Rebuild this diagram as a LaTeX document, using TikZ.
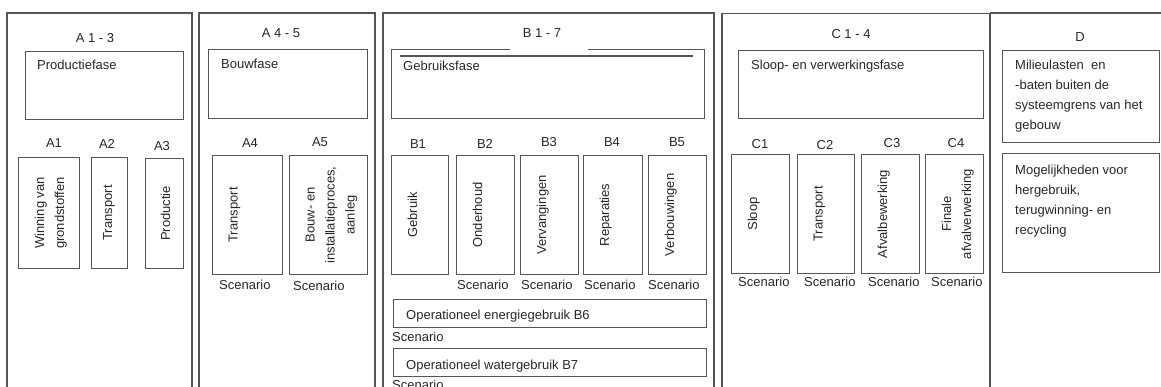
\documentclass[tikz,border=0pt]{standalone}
\usepackage{fontspec}
\setmainfont{Liberation Sans}
\usetikzlibrary{positioning,calc}

\definecolor{rulegray}{RGB}{85,85,85}
\definecolor{textgray}{RGB}{40,40,40}

\tikzset{
  colline/.style={draw=rulegray, line width=1.1pt},
  boxline/.style={draw=rulegray, line width=0.9pt},
  modbox/.style 2 args={boxline, anchor=north west, inner sep=0pt,
    minimum width=#1, minimum height=#2},
  txt/.style={text=textgray, font=\fontsize{13}{20}\selectfont, inner sep=0pt},
  vtxt/.style={txt, rotate=90, anchor=north, align=center},
}

\begin{document}
\begin{tikzpicture}[x=1pt, y=-1pt]
    \useasboundingbox[fill=white] (0,0) rectangle (1161,387);

    % columns
    \draw[colline] (7,395) |- (192,13) -- (192,395);
    \draw[colline] (199,395) |- (375,13) -- (375,395);
    \draw[colline] (383,395) |- (714,13) -- (714,395);
    \draw[colline] (722,395) |- (990,13.5) -- (990,395);
    \draw[colline] (990,13) -- (1165,13);

    % column titles
    \node[txt, anchor=base] (tA13) at (95,43) {A 1 - 3};
    \node[txt, anchor=base] (tA45) at (281,38) {A 4 - 5};
    \node[txt, anchor=base] (tB17) at (542,38) {B 1 - 7};
    \node[txt, anchor=base] (tC14) at (851,39) {C 1 - 4};
    \node[txt, anchor=base] (tD) at (1080,42) {D};

    % phase boxes
    \node[modbox={158pt}{68pt}] (prod) at (25,51) {};
    \node[txt, anchor=base west] (prodtxt) at (37,70) {Productiefase};
    \node[modbox={159pt}{69pt}] (bouw) at (208,49) {};
    \node[txt, anchor=base west] (bouwtxt) at (221,69) {Bouwfase};
    \draw[boxline] (510,49) -- (391,49) -- (391,118) -- (704,118) -- (704,49) -- (588,49);
    \draw[boxline, line width=1.4pt] (400,56) -- (693,56);
    \node[txt, anchor=base west] (gebrtxt) at (403,71) {Gebruiksfase};
    \node[modbox={245pt}{68pt}] (sloop) at (738,50) {};
    \node[txt, anchor=base west] (slooptxt) at (751,70) {Sloop- en verwerkingsfase};

    % module D
    \node[modbox={157pt}{92pt}] (d1) at (1002,50) {};
    \node[txt, anchor=north west, align=left] (d1txt) at (1015,60)
        {Milieulasten\ \ en\\-baten buiten de\\systeemgrens van het\\gebouw};
    \node[modbox={157pt}{119pt}] (d2) at (1002,153) {};
    \node[txt, anchor=north west, align=left] (d2txt) at (1015,165)
        {Mogelijkheden voor\\hergebruik,\\terugwinning- en\\recycling};

    % module labels
    \node[txt, anchor=base] (lA1) at (54,148) {A1};
    \node[txt, anchor=base] (lA2) at (107,149) {A2};
    \node[txt, anchor=base] (lA3) at (162,151) {A3};
    \node[txt, anchor=base] (lA4) at (250,148) {A4};
    \node[txt, anchor=base] (lA5) at (320,147) {A5};
    \node[txt, anchor=base] (lB1) at (418,149) {B1};
    \node[txt, anchor=base] (lB2) at (485,149) {B2};
    \node[txt, anchor=base] (lB3) at (549,147) {B3};
    \node[txt, anchor=base] (lB4) at (612,147) {B4};
    \node[txt, anchor=base] (lB5) at (677,147) {B5};
    \node[txt, anchor=base] (lC1) at (760,149) {C1};
    \node[txt, anchor=base] (lC2) at (825,150) {C2};
    \node[txt, anchor=base] (lC3) at (892,148) {C3};
    \node[txt, anchor=base] (lC4) at (956,148) {C4};

    % module boxes
    \node[modbox={61pt}{111pt}] (a1) at (18,157) {};
    \node[modbox={36pt}{111pt}] (a2) at (91,157) {};
    \node[modbox={38pt}{110pt}] (a3) at (145,158) {};
    \node[modbox={70pt}{119pt}] (a4) at (212,155) {};
    \node[modbox={78pt}{119pt}] (a5) at (289,155) {};
    \node[modbox={57pt}{119pt}] (b1) at (391,155) {};
    \node[modbox={58pt}{119pt}] (b2) at (456,155) {};
    \node[modbox={58pt}{119pt}] (b3) at (520,155) {};
    \node[modbox={59pt}{119pt}] (b4) at (583,155) {};
    \node[modbox={58pt}{119pt}] (b5) at (648,155) {};
    \node[modbox={58pt}{119pt}] (c1) at (731,154) {};
    \node[modbox={57pt}{119pt}] (c2) at (797,154) {};
    \node[modbox={58pt}{119pt}] (c3) at (861,154) {};
    \node[modbox={58pt}{119pt}] (c4) at (925,154) {};

    % vertical texts
    \node[vtxt] (a1txt) at ([xshift=16.5pt]a1.west) {Winning van\\grondstoffen};
    \node[vtxt] (a2txt) at ([xshift=12pt]a2.west) {Transport};
    \node[vtxt] (a3txt) at ([xshift=15.5pt]a3.west) {Productie};
    \node[vtxt] (a4txt) at ([xshift=16.5pt]a4.west) {Transport};
    \node[vtxt] (a5txt) at ([xshift=16.5pt]a5.west) {Bouw- en\\installatieproces,\\aanleg};
    \node[vtxt] (b1txt) at ([xshift=16.5pt]b1.west) {Gebruik};
    \node[vtxt] (b2txt) at ([xshift=16.5pt]b2.west) {Onderhoud};
    \node[vtxt] (b3txt) at ([xshift=16.5pt]b3.west) {Vervangingen};
    \node[vtxt] (b4txt) at ([xshift=16.5pt]b4.west) {Reparaties};
    \node[vtxt] (b5txt) at ([xshift=16.5pt]b5.west) {Verbouwingen};
    \node[vtxt] (c1txt) at ([xshift=16.5pt]c1.west) {Sloop};
    \node[vtxt] (c2txt) at ([xshift=16.5pt]c2.west) {Transport};
    \node[vtxt] (c3txt) at ([xshift=16.5pt]c3.west) {Afvalbewerking};
    \node[vtxt] (c4txt) at ([xshift=16.5pt]c4.west) {Finale\\afvalverwerking};

    % scenario labels
    \node[txt, anchor=base west] (sA4) at (219,289) {Scenario};
    \node[txt, anchor=base west] (sA5) at (293,290) {Scenario};
    \node[txt, anchor=base west] (sB2) at (457,289) {Scenario};
    \node[txt, anchor=base west] (sB3) at (521,289) {Scenario};
    \node[txt, anchor=base west] (sB4) at (584,289) {Scenario};
    \node[txt, anchor=base west] (sB5) at (648,289) {Scenario};
    \node[txt, anchor=base west] (sC1) at (738,287) {Scenario};
    \node[txt, anchor=base west] (sC2) at (804,287) {Scenario};
    \node[txt, anchor=base west] (sC3) at (868,287) {Scenario};
    \node[txt, anchor=base west] (sC4) at (931,287) {Scenario};

    % operational use
    \node[modbox={313pt}{28pt}] (b6) at (393,299) {};
    \node[txt, anchor=base west] (b6txt) at (406,319) {Operationeel energiegebruik B6};
    \node[txt, anchor=base west] (sB6) at (392,341) {Scenario};
    \node[modbox={313pt}{28pt}] (b7) at (393,348) {};
    \node[txt, anchor=base west] (b7txt) at (406,369) {Operationeel watergebruik B7};
    \node[txt, anchor=base west] (sB7) at (392,389) {Scenario};
\end{tikzpicture}
\end{document}
